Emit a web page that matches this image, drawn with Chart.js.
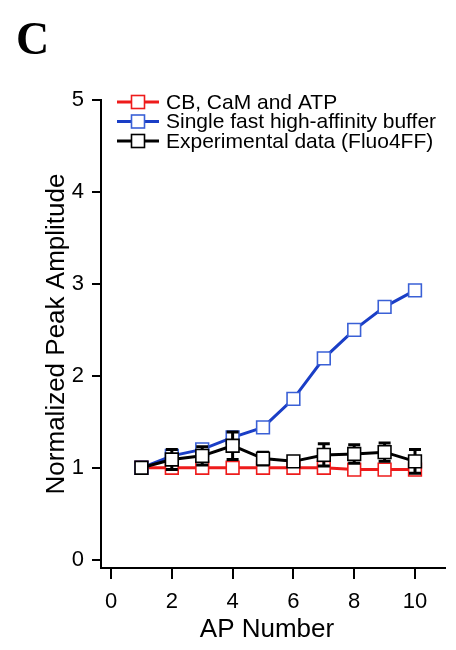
<!DOCTYPE html>
<html>
<head>
<meta charset="utf-8">
<script src="https://cdn.jsdelivr.net/npm/chart.js@4"></script>
<style>
  html, body { margin: 0; padding: 0; background: #fff; }
  #wrap { width: 456px; height: 650px; }
</style>
</head>
<body>
<div id="wrap"><canvas id="peakChart" width="456" height="650"></canvas></div>
<script>
// data (AP number vs normalized peak amplitude)
const apNumbers = [1, 2, 3, 4, 5, 6, 7, 8, 9, 10];
const cbCamAtp = [1.0, 1.0, 1.0, 1.0, 1.0, 1.0, 1.0, 0.98, 0.98, 0.98];
const singleBuffer = [1.0, 1.13, 1.2, 1.33, 1.44, 1.75, 2.19, 2.5, 2.75, 2.93];
const experimental = [1.0, 1.09, 1.13, 1.24, 1.1, 1.07, 1.14, 1.15, 1.17, 1.07];
const experimentalErr = [0, 0.11, 0.1, 0.15, 0.07, 0.03, 0.12, 0.1, 0.1, 0.13];
const seriesNames = ['CB, CaM and ATP', 'Single fast high-affinity buffer', 'Experimental data (Fluo4FF)'];
const xTicks = [0, 2, 4, 6, 8, 10];
const yTicks = [0, 1, 2, 3, 4, 5];

const RED = '#ee1b1b';
const BLUE = '#1a3ec6';
const BLUE_MK = '#3a60d6';
const BLACK = '#000000';
const FONT = 'Arial, "Liberation Sans", Helvetica, sans-serif';

function pts(ys) {
    return apNumbers.map((x, i) => ({ x: x, y: ys[i] }));
}

function series(label, ys, color, markerColor, order) {
    return {
        label: label,
        data: pts(ys),
        borderColor: color,
        borderWidth: 3,
        pointStyle: 'rect',
        pointRadius: 9,
        pointBorderColor: markerColor,
        pointBorderWidth: 1.6,
        pointBackgroundColor: '#ffffff',
        tension: 0,
        order: order
    };
}

// error bars for the experimental series, drawn just before its line and markers
const errorBars = {
    id: 'errorBars',
    beforeDatasetDraw(chart, args) {
        if (args.index !== 2) return;
        const { ctx, scales: { x, y } } = chart;
        ctx.save();
        ctx.strokeStyle = BLACK;
        ctx.lineWidth = 3;
        apNumbers.forEach((ap, i) => {
            const e = experimentalErr[i];
            if (!e) return;
            const px = x.getPixelForValue(ap);
            const top = y.getPixelForValue(experimental[i] + e);
            const bot = y.getPixelForValue(experimental[i] - e);
            ctx.beginPath();
            ctx.moveTo(px, top); ctx.lineTo(px, bot);
            ctx.moveTo(px - 6, top); ctx.lineTo(px + 6, top);
            ctx.moveTo(px - 6, bot); ctx.lineTo(px + 6, bot);
            ctx.stroke();
        });
        ctx.restore();
    }
};

// legend inside the plot, panel letter and x title
const decorations = {
    id: 'decorations',
    afterDraw(chart) {
        const ctx = chart.ctx;
        ctx.save();
        // panel letter
        ctx.fillStyle = '#000';
        ctx.font = 'bold 46px "Liberation Serif", "Times New Roman", serif';
        ctx.textAlign = 'left';
        ctx.textBaseline = 'alphabetic';
        ctx.fillText('C', 16, 54);

        // x axis title
        ctx.font = '26px ' + FONT;
        ctx.textAlign = 'center';
        ctx.textBaseline = 'middle';
        ctx.fillText('AP Number', 267, 630);

        // legend
        const rows = [102, 121.5, 141];
        const colors = [[RED, RED], [BLUE, BLUE_MK], [BLACK, BLACK]];
        ctx.font = '21px ' + FONT;
        ctx.textAlign = 'left';
        seriesNames.forEach((name, i) => {
            const yy = rows[i];
            ctx.strokeStyle = colors[i][0];
            ctx.lineWidth = 3;
            ctx.beginPath();
            ctx.moveTo(117, yy); ctx.lineTo(159, yy);
            ctx.stroke();
            ctx.fillStyle = '#fff';
            ctx.fillRect(131.5, yy - 6.5, 13, 13);
            ctx.strokeStyle = colors[i][1];
            ctx.lineWidth = 1.6;
            ctx.strokeRect(131.5, yy - 6.5, 13, 13);
            ctx.fillStyle = '#000';
            ctx.fillText(name, 166, yy + 1);
        });
        ctx.restore();
    }
};

const ctx = document.getElementById('peakChart').getContext('2d');
const chart = new Chart(ctx, {
    type: 'line',
    data: {
        datasets: [
            series(seriesNames[0], cbCamAtp, RED, RED, 2),
            series(seriesNames[1], singleBuffer, BLUE, BLUE_MK, 1),
            series(seriesNames[2], experimental, BLACK, BLACK, 0)
        ]
    },
    options: {
        responsive: false,
        animation: false,
        layout: { padding: { top: 100, left: 0, right: 8, bottom: 0 } },
        plugins: {
            legend: { display: false },
            tooltip: { enabled: false }
        },
        scales: {
            x: {
                type: 'linear',
                min: -0.33,
                max: 11,
                afterBuildTicks: (s) => { s.ticks = xTicks.map(v => ({ value: v })); },
                afterFit: (s) => { s.height = 82; },
                grid: { drawOnChartArea: false, drawTicks: true, tickLength: 11, color: '#000', lineWidth: 2 },
                border: { display: true, color: '#000', width: 2 },
                ticks: { color: '#000', font: { size: 22, family: FONT }, padding: 10, maxRotation: 0 },
                title: { display: false }
            },
            y: {
                type: 'linear',
                min: -0.09,
                max: 5,
                afterBuildTicks: (s) => { s.ticks = yTicks.map(v => ({ value: v })); },
                afterFit: (s) => { s.width = 101; },
                grid: { drawOnChartArea: false, drawTicks: true, tickLength: 9, color: '#000', lineWidth: 2 },
                border: { display: true, color: '#000', width: 2 },
                ticks: { color: '#000', font: { size: 22, family: FONT }, padding: 8 },
                title: {
                    display: true,
                    text: 'Normalized Peak Amplitude',
                    color: '#000',
                    font: { size: 26, family: FONT },
                    padding: { top: 41, bottom: 0 }
                }
            }
        }
    },
    plugins: [errorBars, decorations]
});
</script>
</body>
</html>
